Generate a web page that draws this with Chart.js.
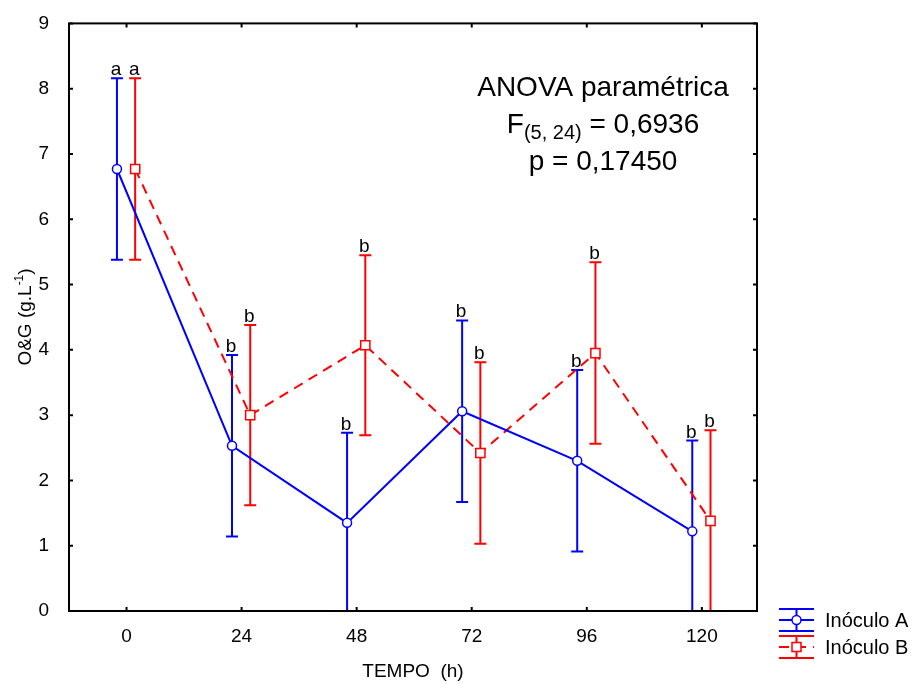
<!DOCTYPE html>
<html>
<head>
<meta charset="utf-8">
<script src="https://cdn.jsdelivr.net/npm/chart.js@4.4.1/dist/chart.umd.min.js"></script>
<style>
  body { margin: 0; background: #fff; }
  #wrap { width: 915px; height: 684px; }
</style>
</head>
<body>
<div id="wrap"><canvas id="grafico" width="915" height="684"></canvas></div>
<script>
// dados
const tempos = [0, 24, 48, 72, 96, 120];
const mediaA = [6.77, 2.53, 1.35, 3.06, 2.30, 1.22];
const erroA  = [1.39, 1.39, 1.38, 1.39, 1.39, 1.39];
const mediaB = [6.77, 3.00, 4.07, 2.42, 3.95, 1.38];
const erroB  = [1.39, 1.38, 1.38, 1.39, 1.39, 1.39];
const letrasA = ["a", "b", "b", "b", "b", "b"];
const letrasB = ["a", "b", "b", "b", "b", "b"];
const ticksY = [0, 1, 2, 3, 4, 5, 6, 7, 8, 9];
const ticksX = [0, 24, 48, 72, 96, 120];
const desvioA = -2.0;   // deslocamento horizontal (h) de cada série
const desvioB = 1.8;

const FONTE = "'Liberation Sans', Arial, sans-serif";

function pontos(medias, desvio) {
  return tempos.map((t, i) => ({ x: t + desvio, y: medias[i] }));
}

// barras de erro
const barrasErro = {
  id: "barrasErro",
  beforeDatasetsDraw(chart) {
    const ctx = chart.ctx;
    const area = chart.chartArea;
    const sx = chart.scales.x, sy = chart.scales.y;
    ctx.save();
    ctx.beginPath();
    ctx.rect(area.left, area.top, area.right - area.left, area.bottom - area.top);
    ctx.clip();
    chart.data.datasets.forEach(ds => {
      ctx.strokeStyle = ds.borderColor;
      ctx.lineWidth = 2;
      ctx.setLineDash([]);
      ds.data.forEach((p, i) => {
        const x = sx.getPixelForValue(p.x);
        const yTop = sy.getPixelForValue(p.y + ds.erros[i]);
        const yBot = sy.getPixelForValue(p.y - ds.erros[i]);
        ctx.beginPath();
        ctx.moveTo(x, yTop); ctx.lineTo(x, yBot);
        ctx.moveTo(x - 6, yTop); ctx.lineTo(x + 6, yTop);
        ctx.moveTo(x - 6, yBot); ctx.lineTo(x + 6, yBot);
        ctx.stroke();
      });
    });
    ctx.restore();
  },
  afterDatasetsDraw(chart) {
    const ctx = chart.ctx;
    const sx = chart.scales.x, sy = chart.scales.y;
    ctx.save();
    ctx.font = "19px " + FONTE;
    ctx.fillStyle = "#000";
    ctx.textAlign = "center";
    ctx.textBaseline = "alphabetic";
    chart.data.datasets.forEach(ds => {
      ds.data.forEach((p, i) => {
        const x = sx.getPixelForValue(p.x);
        const yTop = sy.getPixelForValue(p.y + ds.erros[i]);
        ctx.fillText(ds.letras[i], x - 1, yTop - 3);
      });
    });
    ctx.restore();
  }
};

// moldura, marcas internas, textos e legenda
const moldura = {
  id: "moldura",
  afterDraw(chart) {
    const ctx = chart.ctx;
    const a = chart.chartArea;
    const sx = chart.scales.x, sy = chart.scales.y;
    ctx.save();
    ctx.strokeStyle = "#000";
    ctx.lineWidth = 2;
    ctx.setLineDash([]);
    ctx.strokeRect(a.left, a.top, a.right - a.left, a.bottom - a.top);
    ctx.beginPath();
    ticksY.forEach(v => {
      const y = sy.getPixelForValue(v);
      ctx.moveTo(a.left, y); ctx.lineTo(a.left + 4, y);
      ctx.moveTo(a.right, y); ctx.lineTo(a.right - 4, y);
    });
    ticksX.forEach(v => {
      const x = sx.getPixelForValue(v);
      ctx.moveTo(x, a.bottom); ctx.lineTo(x, a.bottom - 4);
      ctx.moveTo(x, a.top); ctx.lineTo(x, a.top + 4);
    });
    ctx.stroke();

    // título do eixo y (rotacionado)
    ctx.fillStyle = "#000";
    ctx.save();
    ctx.translate(31, 317);
    ctx.rotate(-Math.PI / 2);
    ctx.textBaseline = "alphabetic";
    const p1 = "O&G (g.L", p2 = "-1", p3 = ")";
    ctx.font = "19px " + FONTE;
    const w1 = ctx.measureText(p1).width, w3 = ctx.measureText(p3).width;
    ctx.font = "12px " + FONTE;
    const w2 = ctx.measureText(p2).width;
    let x0 = -(w1 + w2 + w3) / 2;
    ctx.font = "19px " + FONTE;
    ctx.fillText(p1, x0, 0);
    ctx.font = "12px " + FONTE;
    ctx.fillText(p2, x0 + w1, -8);
    ctx.font = "19px " + FONTE;
    ctx.fillText(p3, x0 + w1 + w2, 0);
    ctx.restore();

    // título do eixo x
    ctx.font = "19px " + FONTE;
    ctx.textAlign = "center";
    ctx.fillText("TEMPO  (h)", (a.left + a.right) / 2, a.bottom + 66);

    // texto da ANOVA
    const cx = a.right - 154;
    ctx.font = "28px " + FONTE;
    ctx.fillText("ANOVA paramétrica", cx, a.top + 73);
    ctx.fillText("p = 0,17450", cx, a.top + 147);
    ctx.textAlign = "left";
    const fA = "F", fB = "(5, 24)", fC = " = 0,6936";
    const wA = ctx.measureText(fA).width, wC = ctx.measureText(fC).width;
    ctx.font = "20px " + FONTE;
    const wB = ctx.measureText(fB).width;
    let fx = cx - (wA + wB + wC) / 2;
    const fy = a.top + 110;
    ctx.font = "28px " + FONTE;
    ctx.fillText(fA, fx, fy);
    ctx.font = "20px " + FONTE;
    ctx.fillText(fB, fx + wA, fy + 6);
    ctx.font = "28px " + FONTE;
    ctx.fillText(fC, fx + wA + wB, fy);

    // legenda
    const lx = a.right + 22, lw = 35;
    chart.data.datasets.forEach((ds, k) => {
      const yc = a.bottom + 9 + k * 27;
      const mx = lx + lw / 2;
      ctx.strokeStyle = ds.borderColor;
      ctx.lineWidth = 2;
      ctx.setLineDash([]);
      ctx.beginPath();
      ctx.moveTo(lx, yc - 11); ctx.lineTo(lx + lw, yc - 11);
      ctx.moveTo(lx, yc + 11); ctx.lineTo(lx + lw, yc + 11);
      ctx.moveTo(mx, yc - 11); ctx.lineTo(mx, yc + 11);
      ctx.stroke();
      ctx.setLineDash(ds.borderDash || []);
      ctx.beginPath();
      ctx.moveTo(lx, yc); ctx.lineTo(lx + lw, yc);
      ctx.stroke();
      ctx.setLineDash([]);
      ctx.fillStyle = "#fff";
      ctx.lineWidth = 1.5;
      ctx.beginPath();
      if (ds.pointStyle === "rect") {
        ctx.rect(mx - 4.5, yc - 4.5, 9, 9);
      } else {
        ctx.arc(mx, yc, 4.5, 0, Math.PI * 2);
      }
      ctx.fill();
      ctx.stroke();
      ctx.fillStyle = "#000";
      ctx.font = "20px " + FONTE;
      ctx.textAlign = "left";
      ctx.fillText(ds.label, lx + 46, yc + 7);
    });
    ctx.restore();
  }
};

new Chart(document.getElementById("grafico"), {
  type: "scatter",
  data: {
    datasets: [
      {
        label: "Inóculo A",
        data: pontos(mediaA, desvioA),
        erros: erroA,
        letras: letrasA,
        showLine: true,
        borderColor: "#0000ff",
        borderWidth: 2,
        pointStyle: "circle",
        pointRadius: 4.5,
        pointBorderWidth: 1.5,
        pointBackgroundColor: "#ffffff",
        pointBorderColor: "#0000ff"
      },
      {
        label: "Inóculo B",
        data: pontos(mediaB, desvioB),
        erros: erroB,
        letras: letrasB,
        showLine: true,
        borderColor: "#ff0000",
        borderWidth: 2,
        borderDash: [10, 7],
        pointStyle: "rect",
        pointRadius: 6.5,
        pointBorderWidth: 1.5,
        pointBackgroundColor: "#ffffff",
        pointBorderColor: "#ff0000"
      }
    ]
  },
  options: {
    responsive: false,
    animation: false,
    layout: { padding: { top: 23, right: 158, bottom: 0, left: 0 } },
    plugins: {
      legend: { display: false },
      tooltip: { enabled: false }
    },
    scales: {
      x: {
        type: "linear",
        min: -12,
        max: 131.5,
        grid: { display: false },
        border: { display: false },
        afterBuildTicks: s => { s.ticks = ticksX.map(v => ({ value: v })); },
        afterFit: s => { s.height = 73; },
        ticks: { color: "#000", padding: 6, font: { family: FONTE, size: 19 } }
      },
      y: {
        min: 0,
        max: 9,
        grid: { display: false },
        border: { display: false },
        afterBuildTicks: s => { s.ticks = ticksY.map(v => ({ value: v })); },
        afterFit: s => { s.width = 69; },
        ticks: { color: "#000", padding: 12, font: { family: FONTE, size: 19 } }
      }
    }
  },
  plugins: [barrasErro, moldura]
});
</script>
</body>
</html>
